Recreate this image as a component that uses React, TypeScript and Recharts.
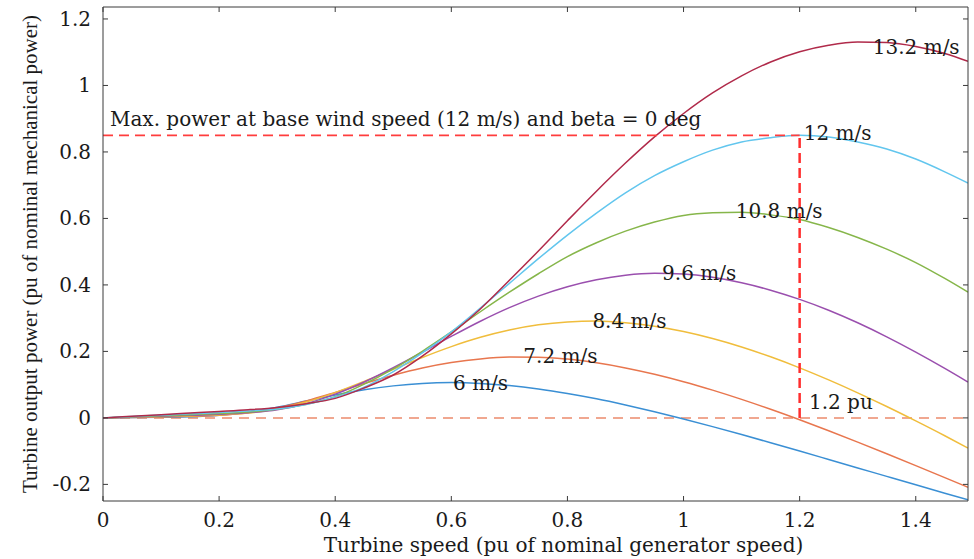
import { LineChart, Line, XAxis, YAxis, ReferenceLine, ReferenceDot } from 'recharts';

// turbine speed in pu, every 0.05 pu
const speed = [
  0, 0.05, 0.1, 0.15, 0.2, 0.25, 0.3, 0.35, 0.4, 0.45, 0.5, 0.55, 0.6, 0.65, 0.7, 0.75,
  0.8, 0.85, 0.9, 0.95, 1, 1.05, 1.1, 1.15, 1.2, 1.25, 1.3, 1.35, 1.4, 1.45, 1.49,
];

// output power (pu) for each wind speed
const p6 = [
  0, 0.001, 0.002, 0.0034, 0.0078, 0.0174, 0.0324, 0.0506, 0.0688, 0.0846, 0.0963, 0.1038,
  0.1063, 0.1038, 0.0973, 0.087, 0.0735, 0.0575, 0.0388, 0.0185, -0.0033, -0.0263, -0.0502,
  -0.0748, -0.0998, -0.1251, -0.1505, -0.176, -0.2014, -0.2266, -0.2467,
];
const p72 = [
  0, 0.0015, 0.0029, 0.0046, 0.0078, 0.0155, 0.0301, 0.0511, 0.0766, 0.1035, 0.1285, 0.15,
  0.1664, 0.1775, 0.1828, 0.1827, 0.1768, 0.1657, 0.1504, 0.1313, 0.1089, 0.0835, 0.0557,
  0.0259, -0.0057, -0.0387, -0.0729, -0.1079, -0.1436, -0.1797, -0.2088,
];
const p84 = [
  0, 0.002, 0.0039, 0.0059, 0.0086, 0.0146, 0.027, 0.0478, 0.0761, 0.1099, 0.1461, 0.1817,
  0.2144, 0.2423, 0.2643, 0.2799, 0.2887, 0.2915, 0.2864, 0.2759, 0.2598, 0.2388, 0.2134,
  0.1837, 0.1506, 0.1143, 0.0754, 0.0343, -0.009, -0.0537, -0.0908,
];
const p96 = [
  0, 0.0026, 0.0051, 0.0077, 0.0108, 0.0157, 0.0248, 0.0428, 0.0714, 0.108, 0.1509, 0.1975,
  0.2452, 0.2908, 0.3317, 0.3664, 0.3945, 0.4155, 0.4292, 0.4351, 0.4328, 0.4228, 0.4064,
  0.3841, 0.3564, 0.3239, 0.2861, 0.2439, 0.198, 0.149, 0.1079,
];
const p108 = [
  0, 0.0033, 0.0065, 0.0098, 0.013, 0.0177, 0.0263, 0.0411, 0.0638, 0.1016, 0.1475, 0.2003,
  0.2584, 0.3193, 0.378, 0.4336, 0.4852, 0.527, 0.5617, 0.5891, 0.6091, 0.6168, 0.6184,
  0.6107, 0.5967, 0.5726, 0.5428, 0.5075, 0.4672, 0.4194, 0.3782,
];
const p12 = [
  0, 0.004, 0.0081, 0.0121, 0.0162, 0.0211, 0.0269, 0.0405, 0.0626, 0.0927, 0.1394, 0.1954,
  0.2588, 0.3306, 0.4046, 0.479, 0.55, 0.616, 0.677, 0.7287, 0.7705, 0.8054, 0.8301,
  0.8429, 0.85, 0.8453, 0.83, 0.8086, 0.7786, 0.7402, 0.7064,
];
const p132 = [
  0, 0.0049, 0.0097, 0.0146, 0.0194, 0.0245, 0.0315, 0.0428, 0.0587, 0.0901, 0.129, 0.1855,
  0.2526, 0.3276, 0.4139, 0.5021, 0.593, 0.682, 0.7666, 0.8453, 0.9157, 0.9776, 1.029,
  1.0707, 1.1015, 1.121, 1.1308, 1.1291, 1.1172, 1.0964, 1.0726,
];

const xTicks = [0, 0.2, 0.4, 0.6, 0.8, 1, 1.2, 1.4];
const yTicks = [-0.2, 0, 0.2, 0.4, 0.6, 0.8, 1, 1.2];

// rated point: 12 m/s, 1.2 pu speed, 0.85 pu power
const ratedSpeed = 1.2;
const ratedPower = 0.85;

const series = [
  { key: 'v6', values: p6, color: '#3a8fd4' },
  { key: 'v72', values: p72, color: '#e8764e' },
  { key: 'v84', values: p84, color: '#f0bd3c' },
  { key: 'v96', values: p96, color: '#9a4fae' },
  { key: 'v108', values: p108, color: '#86b64a' },
  { key: 'v12', values: p12, color: '#62c6ee' },
  { key: 'v132', values: p132, color: '#b02a4a' },
];

const notes = [
  { text: 'Max. power at base wind speed (12 m/s) and beta = 0 deg', x: 0.012, y: 0.877 },
  { text: '13.2 m/s', x: 1.326, y: 1.096 },
  { text: '12 m/s', x: 1.207, y: 0.835 },
  { text: '10.8 m/s', x: 1.09, y: 0.6 },
  { text: '9.6 m/s', x: 0.963, y: 0.414 },
  { text: '8.4 m/s', x: 0.843, y: 0.271 },
  { text: '7.2 m/s', x: 0.724, y: 0.165 },
  { text: '6 m/s', x: 0.603, y: 0.084 },
  { text: '1.2 pu', x: 1.216, y: 0.027 },
];

const data = speed.map((s, i) => {
  const row: Record<string, number> = { speed: s };
  series.forEach((sr) => {
    row[sr.key] = sr.values[i];
  });
  return row;
});

const serif = '"DejaVu Serif", serif';
const times = '"Liberation Serif", "Times New Roman", serif';
const axisColor = '#3a3a3a';
const textColor = '#1a1a1a';

const bottomTick = (props: any) => {
  const { x, y, payload } = props;
  return (
    <g>
      <line x1={x} y1={y} x2={x} y2={y - 5} stroke={axisColor} />
      <text x={x} y={y + 26} textAnchor="middle" fontFamily={serif} fontSize={20} fill={textColor}>
        {payload.value}
      </text>
    </g>
  );
};

const topTick = (props: any) => {
  const { x, y } = props;
  return <line x1={x} y1={y} x2={x} y2={y + 5} stroke={axisColor} />;
};

const leftTick = (props: any) => {
  const { x, y, payload } = props;
  return (
    <g>
      <line x1={x} y1={y} x2={x + 5} y2={y} stroke={axisColor} />
      <text x={x - 12} y={y + 7} textAnchor="end" fontFamily={serif} fontSize={20} fill={textColor}>
        {payload.value}
      </text>
    </g>
  );
};

const rightTick = (props: any) => {
  const { x, y } = props;
  return <line x1={x} y1={y} x2={x - 5} y2={y} stroke={axisColor} />;
};

export default function App() {
  return (
    <div style={{ position: 'absolute', left: 0, top: 0, width: 974, height: 559, background: '#fff' }}>
      <LineChart width={974} height={559} data={data} margin={{ top: 0, right: 0, bottom: 0, left: 0 }}>
        <XAxis
          xAxisId="b"
          dataKey="speed"
          type="number"
          domain={[0, 1.49]}
          allowDataOverflow
          ticks={xTicks}
          interval={0}
          height={58}
          tickSize={0}
          tickMargin={0}
          tickLine={false}
          axisLine={{ stroke: axisColor }}
          tick={bottomTick}
          label={{
            content: (p: any) => (
              <text
                x={p.viewBox.x + p.viewBox.width / 2 + 28}
                y={p.viewBox.y + 51}
                textAnchor="middle"
                fontFamily={serif}
                fontSize={20}
                fill={textColor}
              >
                Turbine speed (pu of nominal generator speed)
              </text>
            ),
          }}
        />
        <XAxis
          xAxisId="t"
          orientation="top"
          dataKey="speed"
          type="number"
          domain={[0, 1.49]}
          allowDataOverflow
          ticks={xTicks}
          interval={0}
          height={7}
          tickSize={0}
          tickMargin={0}
          tickLine={false}
          axisLine={{ stroke: axisColor }}
          tick={topTick}
        />
        <YAxis
          yAxisId="l"
          type="number"
          domain={[-0.25, 1.236]}
          allowDataOverflow
          ticks={yTicks}
          interval={0}
          width={103}
          tickSize={0}
          tickMargin={0}
          tickLine={false}
          axisLine={{ stroke: axisColor }}
          tick={leftTick}
          label={{
            content: (p: any) => {
              const cx = p.viewBox.x + 37;
              const cy = p.viewBox.y + p.viewBox.height / 2;
              return (
                <text
                  x={cx}
                  y={cy}
                  transform={`rotate(-90, ${cx}, ${cy})`}
                  textAnchor="middle"
                  fontFamily={times}
                  fontSize={21}
                  fill={textColor}
                >
                  Turbine output power (pu of nominal mechanical power)
                </text>
              );
            },
          }}
        />
        <YAxis
          yAxisId="r"
          orientation="right"
          type="number"
          domain={[-0.25, 1.236]}
          allowDataOverflow
          ticks={yTicks}
          interval={0}
          width={6}
          tickSize={0}
          tickMargin={0}
          tickLine={false}
          axisLine={{ stroke: axisColor }}
          tick={rightTick}
        />

        <ReferenceLine xAxisId="b" yAxisId="l" y={0} stroke="#ec8a6c" strokeWidth={1.5} strokeDasharray="10 7" />

        {series.map((s) => (
          <Line
            key={s.key}
            xAxisId="b"
            yAxisId="l"
            type="monotone"
            dataKey={s.key}
            stroke={s.color}
            strokeWidth={1.5}
            dot={false}
            activeDot={false}
            isAnimationActive={false}
          />
        ))}

        <ReferenceLine
          xAxisId="b"
          yAxisId="l"
          segment={[{ x: 0, y: ratedPower }, { x: ratedSpeed, y: ratedPower }]}
          stroke="#ff3d3d"
          strokeWidth={1.8}
          strokeDasharray="10 6"
        />
        <ReferenceLine
          xAxisId="b"
          yAxisId="l"
          segment={[{ x: ratedSpeed, y: 0 }, { x: ratedSpeed, y: ratedPower }]}
          stroke="#ff2e2e"
          strokeWidth={2.5}
          strokeDasharray="10 5"
        />

        {notes.map((n) => (
          <ReferenceDot
            key={n.text}
            xAxisId="b"
            yAxisId="l"
            x={n.x}
            y={n.y}
            r={0}
            ifOverflow="visible"
            shape={(p: any) => (
              <text x={p.cx} y={p.cy} fontFamily={serif} fontSize={20} fill={textColor}>
                {n.text}
              </text>
            )}
          />
        ))}
      </LineChart>
    </div>
  );
}
